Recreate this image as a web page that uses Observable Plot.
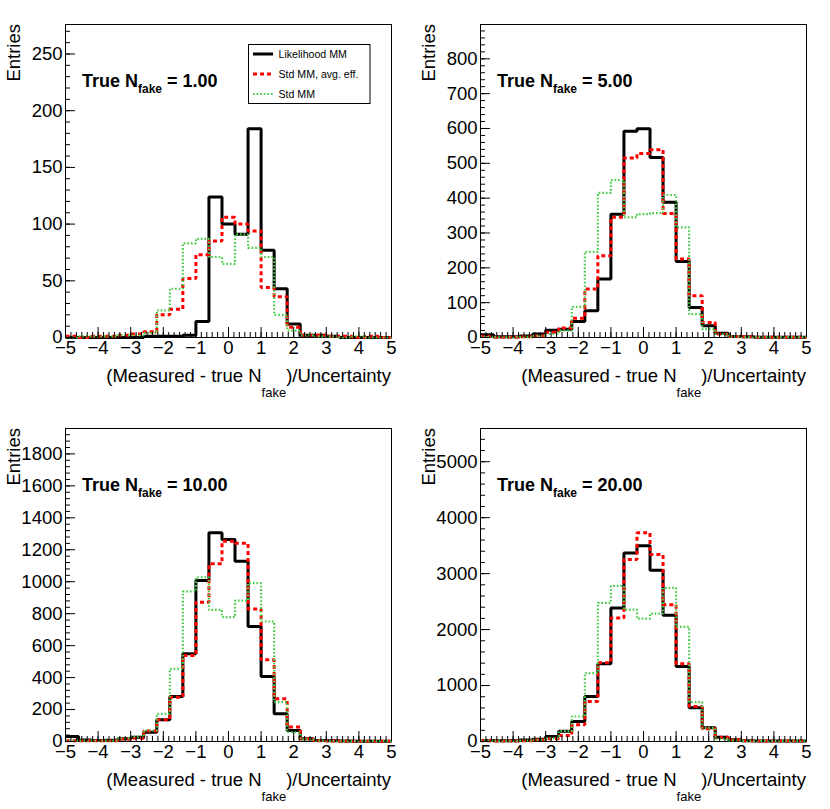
<!DOCTYPE html>
<html><head><meta charset="utf-8">
<script src="https://cdn.jsdelivr.net/npm/d3@7"></script>
<script src="https://cdn.jsdelivr.net/npm/@observablehq/plot@0.6"></script>
<style>
body{margin:0;background:#fff;}
#grid{display:grid;grid-template-columns:415px 415px;grid-template-rows:404px 404px;width:830px;}
#grid svg{display:block;}
</style></head><body><div id="grid"></div>
<script>
// Bin edges (25 bins of width 0.4 from -5 to 5)
const binEdges = [-5,-4.6,-4.2,-3.8,-3.4,-3,-2.6,-2.2,-1.8,-1.4,-1,-0.6,-0.2,0.2,0.6,1,1.4,1.8,2.2,2.6,3,3.4,3.8,4.2,4.6,5];

// True N_fake = 1.00
const likelihoodMM_N1 = [0,0,0,0,0,0,1,1,1,2,14,124,100,91,184,77,43,12,2,2,1,0,0,0,0];
const stdMMavg_N1     = [1,0,1,1,2,3,5,20,25,52,73,85,106,100,94,44,36,9,2,2,1,1,0,1,0];
const stdMM_N1        = [0,1,1,1,2,2,4,24,43,83,87,71,65,91,79,71,20,6,2,1,1,0,1,0,0];
// True N_fake = 5.00
const likelihoodMM_N5 = [8,2,2,4,10,21,24,46,77,168,354,592,599,517,388,218,86,34,12,3,2,1,1,1,1];
const stdMMavg_N5     = [3,1,1,2,5,15,27,55,139,235,345,515,528,539,356,225,120,43,10,3,2,1,1,1,1];
const stdMM_N5        = [2,1,1,2,5,10,20,88,246,415,452,345,354,357,409,316,67,24,10,3,2,1,1,1,1];
// True N_fake = 10.00
const likelihoodMM_N10 = [31,10,6,8,17,27,58,136,282,549,1007,1306,1264,1128,720,407,173,69,17,6,4,3,2,2,2];
const stdMMavg_N10     = [5,5,5,5,15,21,65,136,277,538,872,1112,1254,1241,830,511,267,90,17,5,3,2,2,2,2];
const stdMM_N10        = [5,5,5,5,20,30,69,173,455,939,1028,824,778,882,991,751,246,58,15,5,3,2,2,2,2];
// True N_fake = 20.00
const likelihoodMM_N20 = [20,15,15,25,40,90,185,358,805,1390,2387,3370,3496,3061,2255,1342,603,245,78,30,15,10,10,10,10];
const stdMMavg_N20     = [15,10,10,15,30,50,107,298,716,1408,2208,3252,3729,3341,2446,1390,627,227,78,30,15,10,10,10,10];
const stdMM_N20        = [15,10,10,15,30,60,185,447,1223,2476,2780,2357,2196,2285,2745,2047,704,239,48,20,10,10,10,10,10];

const nfakeLabels = ["1.00","5.00","10.00","20.00"];
const yTicks_N1  = [0,50,100,150,200,250];
const yTicks_N5  = [0,100,200,300,400,500,600,700,800];
const yTicks_N10 = [0,200,400,600,800,1000,1200,1400,1600,1800];
const yTicks_N20 = [0,1000,2000,3000,4000,5000];
const yMinorSteps = [10,20,40,200];
const xTicks = [-5,-4,-3,-2,-1,0,1,2,3,4,5];
const seriesNames = ["Likelihood MM","Std MM, avg. eff.","Std MM"];

const panels = [
  {lik:likelihoodMM_N1, avg:stdMMavg_N1, std:stdMM_N1, yTicks:yTicks_N1, minor:yMinorSteps[0], label:nfakeLabels[0], legend:true},
  {lik:likelihoodMM_N5, avg:stdMMavg_N5, std:stdMM_N5, yTicks:yTicks_N5, minor:yMinorSteps[1], label:nfakeLabels[1]},
  {lik:likelihoodMM_N10, avg:stdMMavg_N10, std:stdMM_N10, yTicks:yTicks_N10, minor:yMinorSteps[2], label:nfakeLabels[2]},
  {lik:likelihoodMM_N20, avg:stdMMavg_N20, std:stdMM_N20, yTicks:yTicks_N20, minor:yMinorSteps[3], label:nfakeLabels[3]}
];

const W=415,H=404,ML=65,MR=24,MT=24,MB=67;
const FW=W-ML-MR, FH=H-MT-MB;
const FONT='"Liberation Sans", Arial, Helvetica, sans-serif';
const RED="#ff0000", GREEN="#44cc44";
const xMinor = d3.range(0,61).map(i => -5 + i/6);
const fmt = d => d < 0 ? "\u2212" + Math.abs(d) : String(d);
function steps(vals){
  const pts = vals.map((v,i)=>({x:binEdges[i], y:v}));
  pts.push({x:binEdges[binEdges.length-1], y:vals[vals.length-1]});
  return pts;
}
const lineOpts = {x:"x", y:"y", curve:"step-after", strokeLinecap:"butt", strokeLinejoin:"miter"};

const grid = document.getElementById("grid");
panels.forEach(p => {
  const ymax = 1.5 * d3.max([...p.lik, ...p.avg, ...p.std]);
  const yMinor = d3.range(0, ymax, p.minor);
  const svg = Plot.plot({
    width:W, height:H, marginLeft:ML, marginRight:MR, marginTop:MT, marginBottom:MB,
    style:{fontFamily:FONT, fontSize:"18.5px", color:"black", background:"white", overflow:"visible"},
    x:{domain:[-5,5], label:null},
    y:{domain:[0,ymax], label:null},
    marks:[
      Plot.frame({stroke:"black", strokeWidth:1}),
      Plot.line(steps(p.lik), {...lineOpts, stroke:"black", strokeWidth:3}),
      Plot.line(steps(p.avg), {...lineOpts, stroke:RED, strokeWidth:3, strokeDasharray:"4,3"}),
      Plot.line(steps(p.std), {...lineOpts, stroke:GREEN, strokeWidth:2.2, strokeDasharray:"1.6,2"}),
      Plot.tickY(yMinor, {y:d=>d, insetRight:FW-5, stroke:"black", strokeWidth:1}),
      Plot.tickY(p.yTicks, {y:d=>d, insetRight:FW-10, stroke:"black", strokeWidth:1}),
      Plot.tickX(xMinor, {x:d=>d, insetTop:FH-5, stroke:"black", strokeWidth:1}),
      Plot.tickX(xTicks, {x:d=>d, insetTop:FH-10, stroke:"black", strokeWidth:1}),
      Plot.axisY(p.yTicks, {tickSize:0, tickPadding:3, tickFormat:fmt, fontSize:18.5, label:null}),
      Plot.axisX(xTicks, {tickSize:0, tickPadding:3, tickFormat:fmt, fontSize:18.5, label:null})
    ]
  });
  const s = d3.select(svg);
  // y-axis title
  s.append("text").attr("transform","translate(20,24) rotate(-90)")
    .attr("text-anchor","end").attr("font-size","18.5px").attr("fill","black").text("Entries");
  // x-axis title
  const xt = s.append("text").attr("x",W-MR).attr("y",382).attr("text-anchor","end")
    .attr("font-size","18.5px").attr("fill","black");
  xt.append("tspan").text("(Measured - true N");
  xt.append("tspan").attr("font-size","13px").attr("dy",15).text("fake");
  xt.append("tspan").attr("dy",-15).text(")/Uncertainty");
  // panel label
  const pl = s.append("text").attr("x",82).attr("y",87).attr("font-size","18px")
    .attr("text-anchor","start").attr("font-weight","bold").attr("fill","black");
  pl.append("tspan").text("True N");
  pl.append("tspan").attr("font-size","12px").attr("dy",6).text("fake");
  pl.append("tspan").attr("dy",-6).text(" = " + p.label);
  if (p.legend) {
    const g = s.append("g");
    g.append("rect").attr("x",248.5).attr("y",44.5).attr("width",121.5).attr("height",59)
      .attr("fill","white").attr("stroke","black").attr("stroke-width",1);
    const styles = [
      {stroke:"black", w:3, dash:null},
      {stroke:RED, w:3, dash:"4,3"},
      {stroke:GREEN, w:2.2, dash:"1.6,2"}
    ];
    seriesNames.forEach((name,i) => {
      const y = 54 + i*20;
      g.append("line").attr("x1",253).attr("x2",273).attr("y1",y).attr("y2",y)
        .attr("stroke",styles[i].stroke).attr("stroke-width",styles[i].w)
        .attr("stroke-dasharray",styles[i].dash);
      g.append("text").attr("x",278.5).attr("y",y+3.8).attr("font-size","10.6px")
        .attr("text-anchor","start").attr("fill","black").text(name);
    });
  }
  grid.appendChild(svg);
});
</script>
</body></html>
